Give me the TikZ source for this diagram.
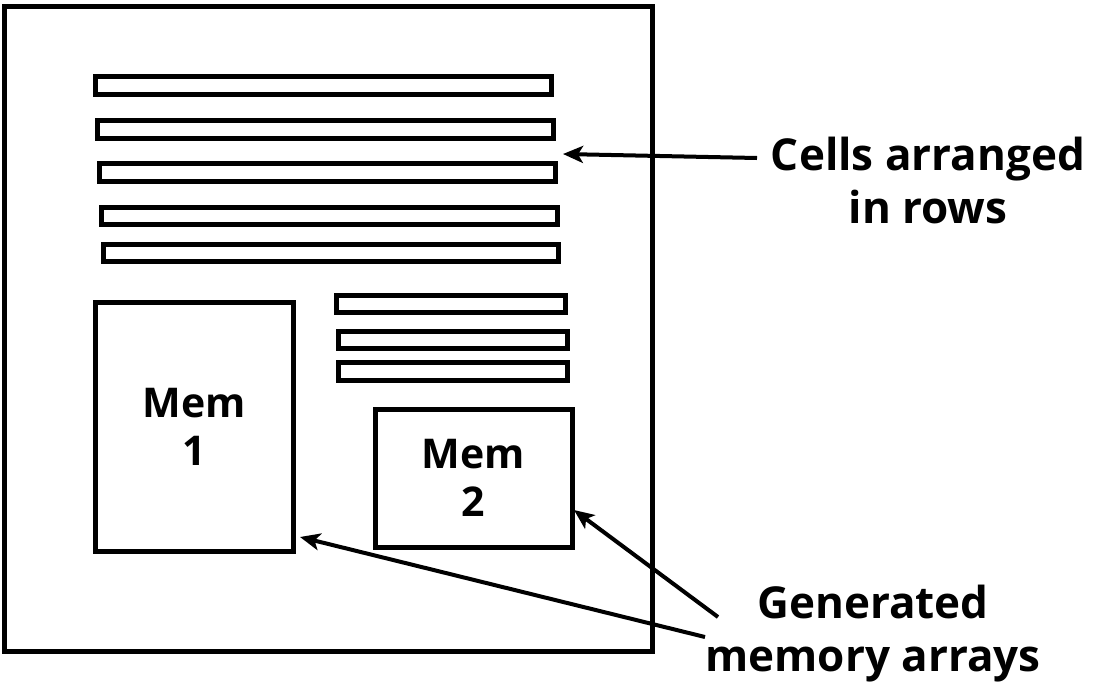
\documentclass[tikz,border=0pt]{standalone}
\usepackage{fontspec}
\setmainfont{Open Sans}[BoldFont={Open Sans Bold}]
\usetikzlibrary{arrows.meta}
\begin{document}
\begin{tikzpicture}[x=1pt,y=-1pt,
  box/.style={draw,line width=5pt,inner sep=0pt,outer sep=0pt,anchor=north west},
  lbl/.style={font=\fontsize{44}{53}\selectfont\bfseries,align=center,inner sep=0pt},
  memtxt/.style={font=\fontsize{41}{48}\selectfont\bfseries,align=center},
  arr/.style={line width=4pt,-{Stealth[length=20pt,width=17pt,inset=5pt]}}]
\useasboundingbox (0,0) rectangle (1099,686);
\node[box,minimum width=648pt,minimum height=645pt] (frame) at (4,6) {};
\node[box,minimum width=456pt,minimum height=18pt] (r1) at (95,76) {};
\node[box,minimum width=456pt,minimum height=18pt] (r2) at (97,120) {};
\node[box,minimum width=456pt,minimum height=18pt] (r3) at (99,163) {};
\node[box,minimum width=456pt,minimum height=17pt] (r4) at (101,207) {};
\node[box,minimum width=455pt,minimum height=17pt] (r5) at (103,244) {};
\node[box,minimum width=229pt,minimum height=17pt] (s1) at (336,295) {};
\node[box,minimum width=229pt,minimum height=17pt] (s2) at (338,331) {};
\node[box,minimum width=229pt,minimum height=18pt] (s3) at (338,362) {};
\node[box,minimum width=198pt,minimum height=249pt] (mem1) at (95,302) {};
\node[memtxt] (m1t) at (mem1.center) {Mem\\1};
\node[box,minimum width=197pt,minimum height=138pt] (mem2) at (375,409) {};
\node[memtxt] (m2t) at (mem2.center) {Mem\\2};
\node[lbl] (cells) at (928,180) {Cells arranged\\in rows};
\node[lbl] (gen) at (873,634) {Generated\\memory arrays};
\coordinate (c0) at (757,158);
\coordinate (c1) at (563,154);
\coordinate (g1) at (718,617);
\coordinate (g2) at (705,637);
\coordinate (t2) at (574,510);
\coordinate (t1) at (300,537);
\draw[arr] (c0) -- (c1);
\draw[arr] (g1) -- (t2);
\draw[arr] (g2) -- (t1);
\end{tikzpicture}
\end{document}
